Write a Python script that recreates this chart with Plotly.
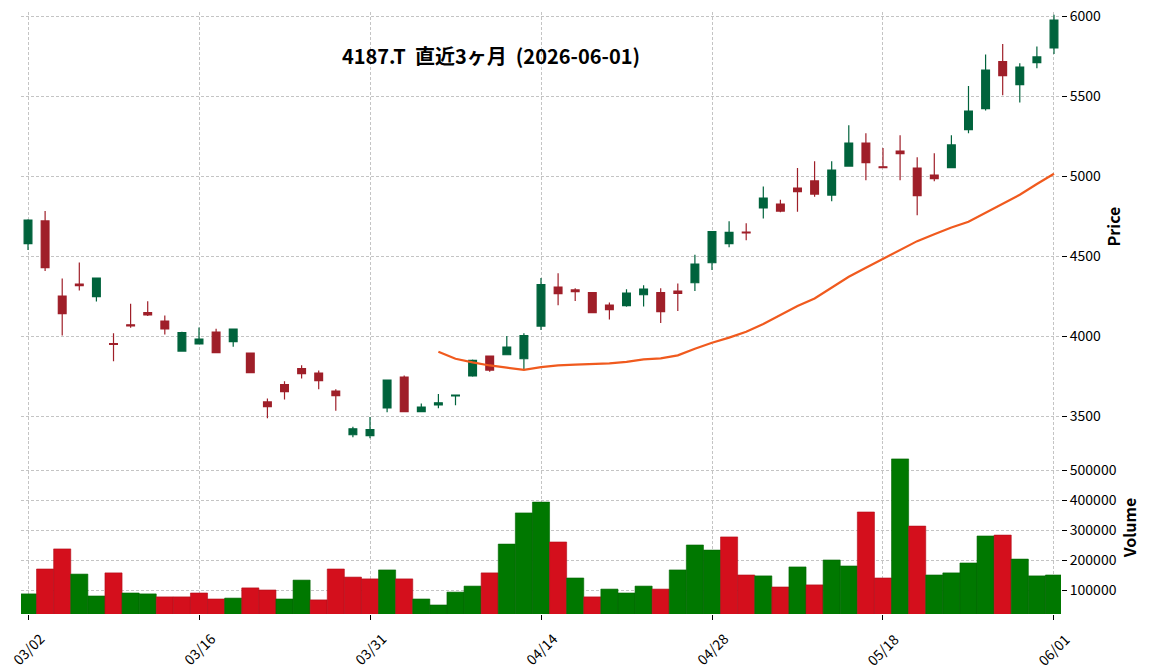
import plotly.graph_objects as go

dates = ["2026-03-02", "2026-03-03", "2026-03-04", "2026-03-05", "2026-03-06",
         "2026-03-09", "2026-03-10", "2026-03-11", "2026-03-12", "2026-03-13",
         "2026-03-16", "2026-03-17", "2026-03-18", "2026-03-19",
         "2026-03-23", "2026-03-24", "2026-03-25", "2026-03-26", "2026-03-27",
         "2026-03-30", "2026-03-31", "2026-04-01", "2026-04-02", "2026-04-03",
         "2026-04-06", "2026-04-07", "2026-04-08", "2026-04-09", "2026-04-10",
         "2026-04-13", "2026-04-14", "2026-04-15", "2026-04-16", "2026-04-17",
         "2026-04-20", "2026-04-21", "2026-04-22", "2026-04-23", "2026-04-24",
         "2026-04-27", "2026-04-28", "2026-04-30", "2026-05-01",
         "2026-05-07", "2026-05-08",
         "2026-05-11", "2026-05-12", "2026-05-13", "2026-05-14", "2026-05-15",
         "2026-05-18", "2026-05-19", "2026-05-20", "2026-05-21", "2026-05-22",
         "2026-05-25", "2026-05-26", "2026-05-27", "2026-05-28", "2026-05-29",
         "2026-06-01"]

opens = [4577, 4719, 4250, 4325, 4246, 3952, 4070, 4146, 4094, 3906,
         3950, 4025, 3965, 3894, 3588, 3696, 3796, 3769, 3656, 3383,
         3377, 3550, 3744, 3527, 3570, 3625, 3750, 3875, 3883, 3858,
         4062, 4306, 4288, 4271, 4194, 4190, 4258, 4271, 4281, 4333,
         4458, 4577, 4650, 4800, 4825, 4925, 4969, 4881, 5062, 5206,
         5058, 5156, 5050, 5006, 5052, 5290, 5421, 5715, 5571, 5708,
         5800]
highs = [4730, 4781, 4360, 4460, 4362, 4017, 4202, 4217, 4129, 4027,
         4054, 4046, 4046, 3894, 3610, 3717, 3817, 3785, 3667, 3433,
         3494, 3725, 3754, 3579, 3637, 3633, 3854, 3879, 4000, 4017,
         4362, 4392, 4298, 4271, 4210, 4292, 4317, 4298, 4329, 4508,
         4652, 4717, 4704, 4935, 4852, 5050, 5092, 5092, 5317, 5267,
         5175, 5254, 5117, 5142, 5254, 5562, 5760, 5825, 5704, 5810,
         6008]
lows = [4537, 4406, 4004, 4285, 4215, 3842, 4052, 4125, 4010, 3906,
        3948, 3893, 3933, 3771, 3486, 3604, 3735, 3667, 3533, 3367,
        3361, 3523, 3527, 3527, 3548, 3567, 3746, 3777, 3883, 3787,
        4037, 4192, 4219, 4146, 4104, 4183, 4185, 4081, 4156, 4281,
        4412, 4554, 4598, 4735, 4773, 4777, 4871, 4842, 5062, 4973,
        5050, 4973, 4754, 4967, 5052, 5267, 5410, 5504, 5460, 5673,
        5762]
closes = [4725, 4427, 4140, 4315, 4362, 3948, 4063, 4132, 4044, 4021,
          3981, 3896, 4044, 3771, 3558, 3652, 3765, 3721, 3627, 3420,
          3415, 3725, 3527, 3556, 3583, 3631, 3848, 3787, 3931, 4002,
          4321, 4265, 4278, 4146, 4165, 4269, 4294, 4152, 4266, 4450,
          4652, 4648, 4644, 4862, 4781, 4902, 4887, 5037, 5206, 5083,
          5052, 5140, 4877, 4983, 5194, 5406, 5662, 5627, 5681, 5744,
          5975]
volumes = [88000, 171000, 238000, 154000, 81000, 158000, 91000, 88000, 78000, 78000,
           91000, 71000, 74000, 108000, 101000, 71000, 134000, 68000, 171000, 144000,
           138000, 168000, 138000, 71000, 51000, 94000, 114000, 158000, 254000, 358000,
           394000, 261000, 141000, 78000, 104000, 91000, 114000, 104000, 168000, 251000,
           234000, 278000, 151000, 148000, 111000, 178000, 118000, 201000, 181000, 361000,
           141000, 538000, 314000, 151000, 158000, 191000, 281000, 284000, 204000, 148000,
           151000]
ma25 = [None] * 24 + [3902, 3858, 3835, 3816, 3802, 3788, 3806, 3816, 3821, 3825,
                      3829, 3838, 3854, 3860, 3879, 3920, 3958, 3990, 4027, 4075,
                      4129, 4187, 4235, 4300, 4370, 4427, 4482, 4540, 4593, 4636,
                      4678, 4714, 4770, 4822, 4883, 4950, 5014]

tick_idx = [0, 10, 20, 30, 40, 50, 60]
title_text = "4187.T\u00a0\u00a0直近3ヶ月\u00a0\u00a0(2026-06-01)"

x = list(range(len(dates)))
tick_text = [dates[i][5:7] + "/" + dates[i][8:10] for i in tick_idx]

UP_C = "#00633c"
DN_C = "#9f1f29"
VUP = "#007800"
VDN = "#d40f1c"
vcolors = [VUP if (i == 0 or closes[i] > closes[i - 1]) else VDN for i in range(len(closes))]
vline = ["#006400" if c == VUP else "#b00c18" for c in vcolors]

FONT = "Noto Sans CJK JP"

fig = go.Figure()
fig.add_trace(go.Candlestick(
    x=x, open=opens, high=highs, low=lows, close=closes,
    increasing=dict(fillcolor=UP_C, line=dict(color=UP_C, width=1.2)),
    decreasing=dict(fillcolor=DN_C, line=dict(color=DN_C, width=1.2)),
    whiskerwidth=0, xaxis="x", yaxis="y", showlegend=False,
))
fig.add_trace(go.Scatter(
    x=x, y=ma25, mode="lines", line=dict(color="#f05a1e", width=2.2),
    xaxis="x", yaxis="y", showlegend=False, connectgaps=False,
))
fig.add_trace(go.Bar(
    x=x, y=volumes, width=1.0,
    marker=dict(color=vcolors, line=dict(color=vline, width=0.6)),
    xaxis="x2", yaxis="y2", showlegend=False,
))

grid = dict(showgrid=True, gridcolor="#c4c4c4", gridwidth=0.8, griddash="3px,2px",
            zeroline=False, showline=False, automargin=False)
split = 0.2874
xr = [-0.41, 60.41]
plot_h = 671 - 12 - 57

# rotated date labels centred under their ticks (matplotlib-style)
for i, t in zip(tick_idx, tick_text):
    fig.add_annotation(x=i, xref="x2", y=-12 / plot_h, yref="paper", text=t,
                       textangle=-45, showarrow=False, xanchor="center", yanchor="top",
                       font=dict(family=FONT, size=14, color="black"))

fig.update_layout(
    width=1152, height=671,
    margin=dict(l=21, r=91, t=12, b=57),
    paper_bgcolor="white", plot_bgcolor="white",
    font=dict(family=FONT, size=13, color="black"),
    boxgap=0.35,
    showlegend=False,
    title=dict(text="<b>" + title_text + "</b>", x=491 / 1152, xref="container",
               xanchor="center", y=1 - 57 / 671, yref="container", yanchor="middle",
               font=dict(family=FONT, size=20, color="black")),
    xaxis=dict(domain=[0, 1], anchor="y", range=xr, tickvals=tick_idx, showticklabels=False,
               ticks="", rangeslider=dict(visible=False), **grid),
    yaxis=dict(domain=[split, 1], anchor="x", side="right", range=[3344, 6025],
               tickvals=[3500, 4000, 4500, 5000, 5500, 6000], ticks="outside", ticklen=5,
               tickcolor="black", tickfont=dict(size=14),
               title=dict(text="<b>Price</b>", font=dict(size=16), standoff=8), **grid),
    xaxis2=dict(domain=[0, 1], anchor="y2", range=xr, tickvals=tick_idx, showticklabels=False,
                ticks="outside", ticklen=5, tickcolor="black", matches="x", **grid),
    yaxis2=dict(domain=[0, split], anchor="x2", side="right", range=[21000, 597700],
                tickvals=[100000, 200000, 300000, 400000, 500000], tickformat="d",
                ticks="outside", ticklen=5, tickcolor="black", tickfont=dict(size=14),
                title=dict(text="<b>Volume</b>", font=dict(size=16), standoff=8), **grid),
)

fig.write_html("out.html")
